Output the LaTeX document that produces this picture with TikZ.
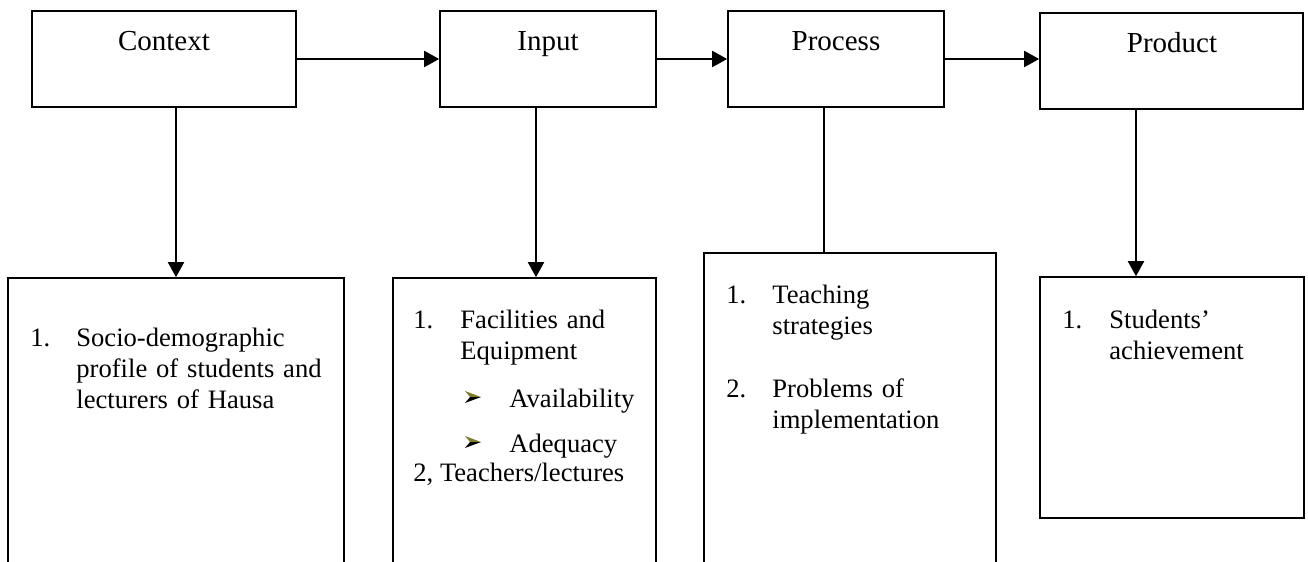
\documentclass[tikz,border=0pt]{standalone}
\usepackage{fontspec}
\setmainfont{Liberation Serif}
\usetikzlibrary{arrows.meta}
\definecolor{bulletolive}{RGB}{125,125,45}
\begin{document}
\begin{tikzpicture}[x=0.5pt,y=-0.5pt,
  box/.style={draw,line width=0.8pt,rectangle,inner sep=0pt},
  conn/.style={line width=1pt},
  arr/.style={conn,-{Triangle[length=7.5pt,width=8pt]}},
  toptext/.style={anchor=base,font=\fontsize{14.5}{17}\selectfont,inner sep=0pt},
  num/.style={anchor=base west,font=\fontsize{13.3}{15.5}\selectfont,inner sep=0pt},
  itemtext/.style={anchor=base west,font=\fontsize{13.3}{15.5}\selectfont,inner sep=0pt,align=left,text width=130pt},
]
\useasboundingbox (0,0) rectangle (1308,562);
\clip (0,0) rectangle (1308,562);
\fill[white] (0,0) rectangle (1308,562);

% top boxes
\node[box,minimum width=132pt,minimum height=48pt] (ctx) at (164,59) {};
\node[box,minimum width=108pt,minimum height=48pt] (inp) at (548,59) {};
\node[box,minimum width=108pt,minimum height=48pt] (proc) at (836,59) {};
\node[box,minimum width=131.5pt,minimum height=48pt] (prod) at (1171.5,61) {};

\node[toptext] (ctxl) at (164,50) {Context};
\node[toptext] (inpl) at (548,50) {Input};
\node[toptext] (procl) at (836,50) {Process};
\node[toptext] (prodl) at (1172,53) {Product};

% bottom boxes
\node[box,minimum width=168pt,minimum height=171pt] (ctxb) at (176,449) {};
\node[box,minimum width=131.5pt,minimum height=171pt] (inpb) at (524.5,449) {};
\node[box,minimum width=146pt,minimum height=183.5pt] (procb) at (850,436.5) {};
\node[box,minimum width=132pt,minimum height=120.5pt] (prodb) at (1172,397.5) {};

% connectors
\draw[arr] (ctx.east) -- (inp.west);
\draw[arr] (inp.east) -- (proc.west);
\draw[arr] (proc.east) -- (proc.east -| prod.west);
\draw[arr] (ctx.south -| ctxb.north) -- (ctxb.north);
\draw[arr] ([xshift=-6pt]inp.south) -- ([xshift=5.75pt]inpb.north);
\draw[conn] ([xshift=-6pt]proc.south) -- ([xshift=-13pt]procb.north);
\draw[arr] ([xshift=-17.75pt]prod.south) -- ([xshift=-18pt]prodb.north);

% context items
\node[num] (c1n) at (30,346) {1.};
\node[itemtext] (c1t) at (76,346) {Socio-demographic\\profile of students and\\lecturers of Hausa};

% input items
\node[num] (i1n) at (413,328) {1.};
\node[itemtext] (i1t) at (460,328) {Facilities and\\Equipment};
\node[num] (i1a) at (509,407) {Availability};
\node[num] (i1b) at (509,452) {Adequacy};
\node[num] (i2) at (413,481) {2, Teachers/lectures};
\foreach \yy in {397,442}{
  \fill[bulletolive] (465,\yy-6) -- (481,\yy) -- (470,\yy) -- cycle;
  \fill[black] (470,\yy) -- (481,\yy) -- (465,\yy+6) -- cycle;
}

% process items
\node[num] (p1n) at (726,303) {1.};
\node[itemtext] (p1t) at (772,303) {Teaching\\strategies};
\node[num] (p2n) at (726,397) {2.};
\node[itemtext] (p2t) at (772,397) {Problems of\\implementation};

% product items
\node[num] (d1n) at (1062,328) {1.};
\node[itemtext] (d1t) at (1109,328) {Students’\\achievement};
\end{tikzpicture}
\end{document}
